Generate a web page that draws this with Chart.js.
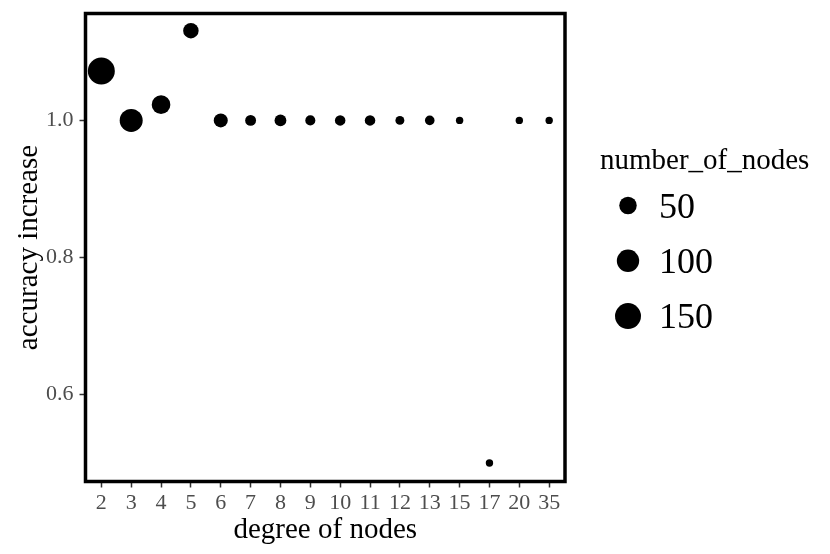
<!DOCTYPE html>
<html lang="en">
<head>
  <meta charset="UTF-8">
  <title>Accuracy increase by degree of nodes</title>
  <script src="https://cdn.jsdelivr.net/npm/chart.js"></script>
  <style>
    html, body { margin: 0; padding: 0; background: #fff; }
  </style>
</head>
<body>
  <canvas id="degreeChart" width="830" height="554"></canvas>

  <script>
    // Data
    const degrees = ['2', '3', '4', '5', '6', '7', '8', '9', '10', '11', '12', '13', '15', '17', '20', '35'];
    const accuracyIncrease = [1.072, 1.0, 1.023, 1.131, 1.0, 1.0, 1.0, 1.0, 1.0, 1.0, 1.0, 1.0, 1.0, 0.5, 1.0, 1.0];
    const numberOfNodes = [166, 108, 60, 35, 26, 13, 16, 11, 12, 12, 9, 10, 8, 8, 8, 8];
    const legendNodes = [50, 100, 150];
    const yTicks = [0.6, 0.8, 1.0];

    const SERIF = '"Liberation Serif", "DejaVu Serif", serif';
    const nMin = Math.min(...numberOfNodes);
    const nMax = Math.max(...numberOfNodes);

    // ggplot-like area scale: size 1..6, then to pixels
    function nodeRadius(n) {
      const t = Math.max(0, (n - nMin) / (nMax - nMin));
      const size = 1 + 5 * Math.sqrt(t);
      return 1.74 + 1.96 * size;
    }

    const points = degrees.map((d, i) => ({
      x: i,
      y: accuracyIncrease[i],
      r: nodeRadius(numberOfNodes[i])
    }));

    // Thick panel border drawn over the points
    const panelBorder = {
      id: 'panelBorder',
      afterDatasetsDraw(chart) {
        const { ctx, chartArea: a } = chart;
        ctx.save();
        ctx.strokeStyle = '#000';
        ctx.lineWidth = 3.5;
        ctx.strokeRect(a.left, a.top, a.right - a.left, a.bottom - a.top);
        ctx.restore();
      }
    };

    // Size legend on the right
    const sizeLegend = {
      id: 'sizeLegend',
      afterDraw(chart) {
        const ctx = chart.ctx;
        ctx.save();
        ctx.fillStyle = '#000';
        ctx.textAlign = 'left';
        ctx.textBaseline = 'alphabetic';
        ctx.font = '29px ' + SERIF;
        ctx.fillText('number_of_nodes', 600, 169);
        ctx.font = '36px ' + SERIF;
        legendNodes.forEach((n, i) => {
          const cy = 205.5 + i * 55.3;
          ctx.beginPath();
          ctx.arc(628, cy, nodeRadius(n), 0, Math.PI * 2);
          ctx.fill();
          ctx.fillText(String(n), 659, cy + 12.3);
        });
        ctx.restore();
      }
    };

    const ctx = document.getElementById('degreeChart').getContext('2d');
    new Chart(ctx, {
      type: 'bubble',
      data: {
        datasets: [{
          label: 'number_of_nodes',
          data: points,
          backgroundColor: '#000',
          borderWidth: 0,
          hoverRadius: 0
        }]
      },
      options: {
        responsive: false,
        animation: false,
        layout: { padding: { top: 13.5, right: 265, bottom: 0, left: 0 } },
        plugins: {
          legend: { display: false },
          tooltip: { enabled: false }
        },
        scales: {
          x: {
            type: 'linear',
            min: -0.53,
            max: 15.53,
            afterBuildTicks: scale => { scale.ticks = degrees.map((d, i) => ({ value: i })); },
            afterFit: scale => {
              scale.height = 72.5;
              scale.paddingLeft = 0;
              scale.paddingRight = 0;
            },
            ticks: {
              autoSkip: false,
              maxRotation: 0,
              padding: 2.5,
              color: '#4d4d4d',
              font: { family: SERIF, size: 22 },
              callback: v => degrees[v]
            },
            grid: { drawOnChartArea: false, tickLength: 6, tickColor: '#333', tickWidth: 1.5 },
            border: { display: false },
            title: {
              display: true,
              text: 'degree of nodes',
              color: '#000',
              font: { family: SERIF, size: 29 },
              padding: { top: 0, bottom: 6 }
            }
          },
          y: {
            min: 0.473,
            max: 1.156,
            afterBuildTicks: scale => { scale.ticks = yTicks.map(v => ({ value: v })); },
            afterFit: scale => {
              scale.width = 85.5;
              scale.paddingTop = 0;
              scale.paddingBottom = 0;
            },
            ticks: {
              padding: 6,
              color: '#4d4d4d',
              font: { family: SERIF, size: 22 },
              callback: v => v.toFixed(1)
            },
            grid: { drawOnChartArea: false, tickLength: 6, tickColor: '#333', tickWidth: 1.5 },
            border: { display: false },
            title: {
              display: true,
              text: 'accuracy increase',
              color: '#000',
              font: { family: SERIF, size: 29 },
              padding: { top: 12, bottom: 0 }
            }
          }
        }
      },
      plugins: [panelBorder, sizeLegend]
    });
  </script>
</body>
</html>
